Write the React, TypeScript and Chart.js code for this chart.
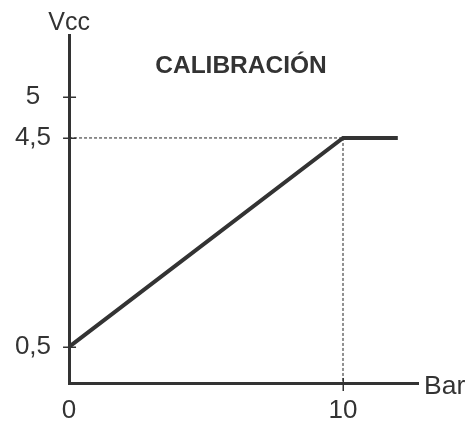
import React, { useEffect, useRef } from "react";
import { Chart, registerables } from "chart.js";

Chart.register(...registerables);

// ---- data ----
const barValues = [0, 10, 12];
const vccValues = [0.5, 4.5, 4.5];
const guideH_x = [0, 10];
const guideH_y = [4.5, 4.5];
const guideV_x = [10, 10];
const xTickValues = [0, 10];
const xTickLabels = ["0", "10"];
const yTickPositions = [0.5, 4.5, 5.285];
const yTickLabels = ["0,5", "4,5", "5"];
const chartTitle = "CALIBRACIÓN";
const yAxisName = "Vcc";
const xAxisName = "Bar";

// axis ranges (schematic)
const X_MIN = 0;
const X_MAX = 12.737;
const Y_MIN = -0.208;
const Y_MAX = 6.471;

const FONT = '"Liberation Sans", Arial, Helvetica, sans-serif';
const INK = "#333333";

const annotations = {
  id: "annotations",
  afterDraw(chart: any) {
    const ctx = chart.ctx;
    const xs = chart.scales.x;
    const ys = chart.scales.y;
    const ax = xs.getPixelForValue(X_MIN);
    const ay = ys.getPixelForValue(Y_MIN);
    ctx.save();
    ctx.strokeStyle = INK;
    ctx.lineWidth = 1.5;
    // y tick marks crossing the axis
    yTickPositions.forEach((v) => {
      const py = Math.round(ys.getPixelForValue(v)) + 0.25;
      ctx.beginPath();
      ctx.moveTo(ax - 6, py);
      ctx.lineTo(ax + 7, py);
      ctx.stroke();
    });
    // x tick marks crossing the axis (skip origin)
    xTickValues.forEach((v) => {
      if (v === X_MIN) return;
      const px = Math.round(xs.getPixelForValue(v)) + 0.25;
      ctx.beginPath();
      ctx.moveTo(px, ay - 6);
      ctx.lineTo(px, ay + 7);
      ctx.stroke();
    });
    // texts
    ctx.fillStyle = INK;
    ctx.textBaseline = "alphabetic";
    ctx.font = "bold 24.5px " + FONT;
    ctx.textAlign = "center";
    ctx.fillText(chartTitle, 241, 73);
    ctx.font = "25px " + FONT;
    ctx.fillText(yAxisName, ax, 30);
    ctx.font = "26.5px " + FONT;
    ctx.textAlign = "left";
    ctx.fillText(xAxisName, 424, 393.5);
    ctx.restore();
  },
};

export default function App() {
  const ref = useRef<HTMLCanvasElement | null>(null);
  useEffect(() => {
    if (!ref.current) return;
    const toPts = (xa: number[], ya: number[]) => xa.map((x, i) => ({ x, y: ya[i] }));
    const chart = new Chart(ref.current, {
      type: "line",
      data: {
        datasets: [
          {
            data: toPts(barValues, vccValues),
            borderColor: INK,
            borderWidth: 4,
            pointRadius: 0,
            tension: 0,
            clip: false as any,
            borderCapStyle: "butt",
            borderJoinStyle: "miter",
            order: 0,
          },
          {
            data: toPts(guideH_x, guideH_y),
            borderColor: "#222222",
            borderWidth: 1,
            borderDash: [3, 2],
            pointRadius: 0,
            clip: false as any,
            order: 1,
          },
          {
            data: toPts(guideV_x, [guideH_y[1], Y_MIN]),
            borderColor: "#222222",
            borderWidth: 1,
            borderDash: [3, 2],
            pointRadius: 0,
            clip: false as any,
            order: 1,
          },
        ],
      },
      options: {
        responsive: false,
        animation: false,
        devicePixelRatio: 1,
        layout: { padding: { left: -3.1, right: 56, top: 35, bottom: -15.9 } },
        plugins: {
          legend: { display: false },
          tooltip: { enabled: false },
          title: { display: false },
        },
        scales: {
          x: {
            type: "linear",
            min: X_MIN,
            max: X_MAX,
            bounds: "data",
            grid: { display: false, drawTicks: false },
            border: { display: true, color: INK, width: 3 },
            afterBuildTicks: (s: any) => {
              s.ticks = xTickValues.map((v) => ({ value: v }));
            },
            ticks: {
              autoSkip: false,
              maxRotation: 0,
              padding: 16.1,
              color: INK,
              font: { family: FONT, size: 26, lineHeight: 0.8 },
              callback: (_v: any, i: number) => xTickLabels[i],
            },
          },
          y: {
            type: "linear",
            min: Y_MIN,
            max: Y_MAX,
            bounds: "data",
            grid: { display: false, drawTicks: false },
            border: { display: true, color: INK, width: 3 },
            afterBuildTicks: (s: any) => {
              s.ticks = yTickPositions.map((v) => ({ value: v }));
            },
            ticks: {
              autoSkip: false,
              padding: 18,
              crossAlign: "center",
              color: INK,
              font: { family: FONT, size: 26 },
              callback: (_v: any, i: number) => yTickLabels[i],
            },
          },
        },
      },
      plugins: [annotations],
    } as any);
    return () => chart.destroy();
  }, []);
  return (
    <div style={{ position: "absolute", left: 0, top: 0, width: 474, height: 421, background: "#fff" }}>
      <canvas ref={ref} width={474} height={421} style={{ display: "block" }} />
    </div>
  );
}
